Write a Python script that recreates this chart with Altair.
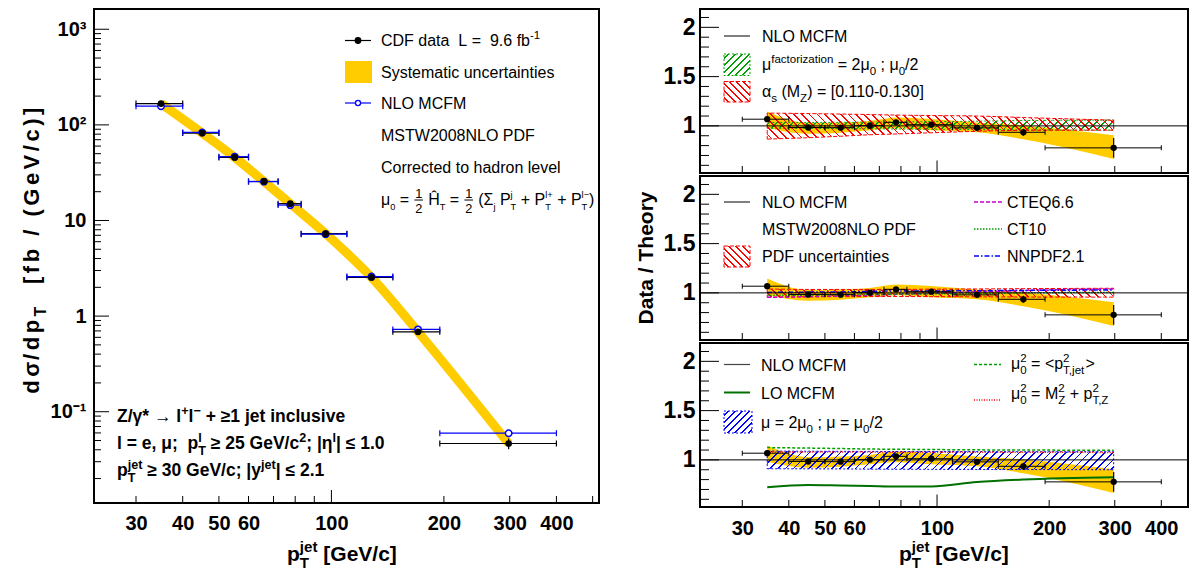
import math
import re
import altair as alt
import pandas as pd

# ---------------- values ----------------
bin_lo = [30, 40, 50, 60, 72, 83, 110, 146, 195]
bin_hi = [40, 50, 60, 72, 83, 110, 146, 195, 400]
pt_center = [35.0, 45.1, 55.1, 66.0, 77.6, 96.5, 128.0, 170.5, 298.0]
xsec = [167.0, 82.0, 45.7, 25.6, 15.0, 7.28, 2.54, 0.685, 0.0465]
xsec_err = [2.0, 1.0, 0.6, 0.4, 0.25, 0.14, 0.06, 0.025, 0.006]
nlo_mcfm = [157.0, 83.3, 46.5, 25.5, 14.5, 7.2, 2.59, 0.726, 0.0596]

ratio = [1.068, 0.984, 0.982, 1.002, 1.036, 1.012, 0.980, 0.935, 0.777]
ratio_err = [0.012, 0.012, 0.012, 0.014, 0.016, 0.016, 0.020, 0.035, 0.100]
sys_lo = [0.982, 0.920, 0.930, 0.955, 0.975, 0.955, 0.935, 0.865, 0.665]
sys_hi = [1.146, 1.029, 1.035, 1.050, 1.085, 1.070, 1.035, 1.005, 0.905]

muf_lo = [0.975, 0.974, 0.972, 0.970, 0.968, 0.966, 0.963, 0.960, 0.957]
muf_hi = [1.035, 1.035, 1.036, 1.038, 1.040, 1.043, 1.048, 1.054, 1.060]
alphas_lo = [0.866, 0.880, 0.895, 0.910, 0.918, 0.930, 0.945, 0.955, 0.957]
alphas_hi = [1.130, 1.125, 1.120, 1.115, 1.110, 1.105, 1.100, 1.085, 1.058]

pdf_lo = [0.955, 0.960, 0.962, 0.963, 0.963, 0.962, 0.960, 0.958, 0.957]
pdf_hi = [1.040, 1.035, 1.035, 1.035, 1.035, 1.038, 1.040, 1.043, 1.047]
cteq66 = [0.955, 0.962, 0.970, 0.978, 0.985, 0.995, 1.010, 1.025, 1.040]
ct10 = [0.975, 0.978, 0.982, 0.985, 0.988, 0.990, 0.995, 1.000, 1.005]
nnpdf21 = [1.005, 1.008, 1.010, 1.015, 1.020, 1.020, 1.022, 1.025, 1.030]

scale_lo = [0.910, 0.909, 0.908, 0.906, 0.905, 0.904, 0.903, 0.902, 0.900]
scale_hi = [1.090, 1.088, 1.087, 1.086, 1.085, 1.085, 1.084, 1.083, 1.083]
mu_ptjet = [1.125, 1.120, 1.115, 1.110, 1.108, 1.105, 1.102, 1.100, 1.098]
mu_mzpt = [1.080, 1.080, 1.079, 1.079, 1.078, 1.078, 1.077, 1.077, 1.076]
lo_mcfm = [0.722, 0.745, 0.740, 0.735, 0.730, 0.730, 0.775, 0.800, 0.823]

x_label_ticks = [30, 40, 50, 60, 100, 200, 300, 400]
x_major_ticks = [100]
x_minor_ticks = [30, 40, 50, 60, 70, 80, 90, 200, 300, 400, 500]
y_label_ticks_left = [0.1, 1, 10, 100, 1000]
y_label_ticks_right = [1, 1.5, 2]

# ---------------- geometry / style ----------------
FONT = "Liberation Sans"
YEL = "#FFCC00"
BLUE = "#0000FF"
RED = "#FF0000"
GREEN = "#00A000"
DGREEN = "#007000"
MAG = "#CC00CC"

LX0, LY0 = 93.0, 8.0
LW, LH = 505, 494
RX0 = 699.0
RY0 = [8.0, 175.0, 342.0]
RW, RH = 488, 164
HSPACE = RX0 - (LX0 + LW)
PADL = 11

XDOM_L = [23.16, 520.0]
YDOM_L = [0.0111, 1629.0]
XDOM_R = [23.1, 471.8]
YDOM_R = [0.522, 2.186]

# ---------------- text helpers ----------------
REG_SPEC = ("A667 B667 C722 D722 E667 F611 G778 H722 I278 J500 K667 L556 M833 N722 O778 P667 Q778 "
            "R722 S667 T611 U722 V667 W944 X667 Y667 Z611 a556 b556 c500 d556 e556 f278 g556 h556 "
            "i222 j222 k500 l222 m833 n556 o556 p556 q556 r333 s500 t278 u556 v500 w722 x500 y500 "
            "z500 0556 1556 2556 3556 4556 5556 6556 7556 8556 9556 (333 )333 [278 ]278 +584 -333 "
            "=584 <584 >584 /278 .278 ,278 ;278 :278 |260 *389 μ577 α578 γ500 η556 σ618 Σ618 "
            "→1000 ≥549 ≤549 −584 Ĥ722")
BOLD_SPEC = ("A722 B722 C722 D722 E667 F611 G778 H722 I278 J556 K722 L611 M833 N722 O778 P667 Q778 "
             "R722 S667 T611 U722 V667 W944 X667 Y667 Z611 a556 b611 c556 d611 e556 f333 g611 h611 "
             "i278 j278 k556 l278 m889 n611 o611 p611 q611 r389 s556 t333 u611 v556 w778 x556 y556 "
             "z500 0556 1556 2556 3556 4556 5556 6556 7556 8556 9556 (333 )333 [333 ]333 +584 -333 "
             "=584 <584 >584 /278 .278 ,278 ;333 :333 |280 *389 μ611 α611 γ556 η611 σ611 Σ611 "
             "→1000 ≥549 ≤549 −584 Ĥ722")


def parse_w(spec):
    d = {" ": 278}
    for tok in spec.split():
        d[tok[0]] = int(tok[1:])
    return d


REG = parse_w(REG_SPEC)
BLD = parse_w(BOLD_SPEC)


def tw(s, size, bold):
    tab = BLD if bold else REG
    return sum(tab.get(c, 556) for c in s) * size / 1000.0


def rich(items, x, y, size, bold=False, angle=0, small=0.72, track=0.0):
    pieces, bars = [], []

    def place(t, adv, perp, s):
        if angle == 0:
            px, py = x + adv, y + perp
        else:
            px, py = x + perp, y - adv
        pieces.append({"x": px, "y": py, "t": t, "s": s, "a": angle})

    def run(s, adv, perp, fs):
        p = 0.0
        if track > 0:
            for ch in s:
                if ch.strip():
                    place(ch, adv + p, perp, fs)
                p += tw(ch, fs, bold) + track
            return p
        for tok in re.split(r"( +)", s):
            if not tok:
                continue
            if tok.strip():
                place(tok, adv + p, perp, fs)
            p += tw(tok, fs, bold)
        return p

    pos = 0.0
    for it in items:
        if isinstance(it, str):
            pos += run(it, pos, 0.0, size)
            continue
        k = it[0]
        fs = size * small
        if k == "^":
            pos += run(it[1], pos, -0.42 * size, fs)
        elif k == "_":
            pos += run(it[1], pos, 0.32 * size, fs)
        elif k == "^_":
            w1 = run(it[1], pos, -0.42 * size, fs)
            w2 = run(it[2], pos, 0.32 * size, fs)
            pos += max(w1, w2)
        elif k == "frac":
            f2 = size * 0.8
            w = max(tw(it[1], f2, bold), tw(it[2], f2, bold))
            pad = 1.5
            run(it[1], pos + pad + (w - tw(it[1], f2, bold)) / 2, -0.42 * size, f2)
            run(it[2], pos + pad + (w - tw(it[2], f2, bold)) / 2, 0.52 * size, f2)
            bars.append((x + pos + pad * 0.5, x + pos + pad * 1.5 + w, y - 0.28 * size))
            pos += w + 2 * pad
    return pieces, bars, pos


def rel(pieces, ox, oy):
    return [dict(p, x=p["x"] - ox, y=p["y"] - oy) for p in pieces]


ONE = pd.DataFrame({"k": [0]})


def text_layer(pieces, bold):
    df = pd.DataFrame(pieces)
    return alt.Chart(df).mark_text(
        font=FONT, fontWeight="bold" if bold else "normal", align="left",
        baseline="alphabetic", color="black"
    ).encode(
        x=alt.X("x:Q", scale=None, axis=None),
        y=alt.Y("y:Q", scale=None, axis=None),
        text="t:N",
        size=alt.Size("s:Q", scale=None, legend=None),
        angle=alt.Angle("a:Q", scale=None, legend=None),
    )


def hrule(x1, x2, y, color, width=1.0, dash=None):
    kw = dict(color=color, strokeWidth=width, strokeCap="butt")
    if dash:
        kw["strokeDash"] = dash
    return alt.Chart(ONE).mark_rule(**kw).encode(x=alt.value(x1), x2=alt.value(x2), y=alt.value(y))


def box(x1, x2, y1, y2, fill, stroke=None, dash=None):
    kw = dict(fill=fill, strokeWidth=1)
    if stroke:
        kw["stroke"] = stroke
    if dash:
        kw["strokeDash"] = dash
    return alt.Chart(ONE).mark_rect(**kw).encode(
        x=alt.value(x1), x2=alt.value(x2), y=alt.value(y1), y2=alt.value(y2))


def dot(x, y, fill, stroke, size):
    return alt.Chart(ONE).mark_point(shape="circle", filled=True, fill=fill, stroke=stroke,
                                     strokeWidth=1.3, size=size, opacity=1).encode(
        x=alt.value(x), y=alt.value(y))


def hatch(color, W, H, back=False, period=5.5, lw=1.2):
    W = max(W, 1.0)
    H = max(H, 1.0)
    k = (W + H) / (W * W + H * H)
    if back:
        g = dict(x1=0, y1=1, x2=round(W * k, 5), y2=round(1 - H * k, 5))
    else:
        g = dict(x1=0, y1=0, x2=round(W * k, 5), y2=round(H * k, 5))
    dt = period * math.sqrt(2) / (W + H)
    dl = lw * math.sqrt(2) / (W + H)
    clear = "rgba(255,255,255,0)"
    stops = [{"offset": 0, "color": clear}]
    o = dt / 2
    while o + dl < 1:
        a, b = round(o, 5), round(o + dl, 5)
        stops += [{"offset": a, "color": clear}, {"offset": a, "color": color},
                  {"offset": b, "color": color}, {"offset": b, "color": clear}]
        o += dt
    stops.append({"offset": 1, "color": clear})
    d = {"gradient": "linear", "stops": stops}
    d.update(g)
    return d


def text_and_bars(specs, ox, oy):
    reg, bld, layers = [], [], []
    for pcs, bars, bold in specs:
        (bld if bold else reg).extend(rel(pcs, ox, oy))
        for (a, b, yy) in bars:
            layers.append(hrule(a - ox, b - ox, yy - oy, "black", 1.0))
    if reg:
        layers.append(text_layer(reg, False))
    if bld:
        layers.append(text_layer(bld, True))
    return layers


def T(items, x, y, size=16, bold=False, angle=0, small=0.72):
    p, b, _ = rich(items, x, y, size, bold, angle, small)
    return (p, b, bold)


def Tcentered_rot(items, x, yc, size, bold=True, track=0.0):
    _, _, w = rich(items, 0, 0, size, bold, track=track)
    p, b, _ = rich(items, x, yc + w / 2, size, bold, 270, track=track)
    return (p, b, bold)


# ---------------- axes ----------------
AX_COMMON = dict(ticks=False, tickSize=0, domain=False, grid=False, title=None,
                 labelFont=FONT, labelFontWeight="bold", labelColor="black",
                 labelOverlap=False, labelFlush=False)
AX_L = alt.Axis(values=x_label_ticks, format="d", labelFontSize=20, labelPadding=10, **AX_COMMON)
AY_L = alt.Axis(values=y_label_ticks_left, labelFontSize=20, labelPadding=8,
                labelExpr="datum.value > 999 ? '10³' : datum.value > 99 ? '10²' : datum.value > 9 ? '10' : datum.value > 0.9 ? '1' : '10⁻¹'",
                **AX_COMMON)
AX_R = alt.Axis(values=x_label_ticks, format="d", labelFontSize=20, labelPadding=11, **AX_COMMON)
AY_R = alt.Axis(values=y_label_ticks_right, format="~g", labelFontSize=23, labelPadding=5, **AX_COMMON)

# ---------------- left panel ----------------
dfL = pd.DataFrame({"pt": pt_center, "lo": bin_lo, "hi": bin_hi, "xs": xsec, "nlo": nlo_mcfm})
dfL["xs_dn"] = dfL["xs"] - pd.Series(xsec_err)
dfL["xs_up"] = dfL["xs"] + pd.Series(xsec_err)

xsL = alt.Scale(type="log", domain=XDOM_L, nice=False)
ysL = alt.Scale(type="log", domain=YDOM_L, nice=False)


def XL(f):
    return alt.X(f, type="quantitative", scale=xsL, axis=AX_L)


def YL(f):
    return alt.Y(f, type="quantitative", scale=ysL, axis=AY_L)


baseL = alt.Chart(dfL)
left_layers = [
    baseL.mark_line(color=YEL, strokeWidth=9, interpolate="monotone", strokeCap="butt").encode(
        x=XL("pt"), y=YL("xs")),
    baseL.mark_rule(color="black", strokeWidth=1.2).encode(x=XL("lo"), x2="hi", y=YL("xs")),
    baseL.mark_tick(orient="vertical", size=6, thickness=1.2, color="black", opacity=1).encode(x=XL("lo"), y=YL("xs")),
    baseL.mark_tick(orient="vertical", size=6, thickness=1.2, color="black", opacity=1).encode(x=XL("hi"), y=YL("xs")),
    baseL.mark_rule(color=BLUE, strokeWidth=1.2).encode(x=XL("lo"), x2="hi", y=YL("nlo")),
    baseL.mark_tick(orient="vertical", size=6, thickness=1.2, color=BLUE, opacity=1).encode(x=XL("lo"), y=YL("nlo")),
    baseL.mark_tick(orient="vertical", size=6, thickness=1.2, color=BLUE, opacity=1).encode(x=XL("hi"), y=YL("nlo")),
    baseL.mark_rule(color="black", strokeWidth=1.2).encode(x=XL("pt"), y=YL("xs_dn"), y2="xs_up"),
    baseL.mark_point(shape="circle", filled=True, fill="white", stroke=BLUE, strokeWidth=1.5,
                     size=42, opacity=1).encode(x=XL("pt"), y=YL("nlo")),
    baseL.mark_point(shape="circle", filled=True, color="black", size=45, opacity=1).encode(
        x=XL("pt"), y=YL("xs")),
]

# inward ticks, left
left_layers.append(alt.Chart(pd.DataFrame({"v": x_major_ticks})).mark_rule(color="black", strokeWidth=1).encode(
    x=XL("v"), y=alt.value(LH), y2=alt.value(LH - 13)))
left_layers.append(alt.Chart(pd.DataFrame({"v": x_minor_ticks})).mark_rule(color="black", strokeWidth=1).encode(
    x=XL("v"), y=alt.value(LH), y2=alt.value(LH - 7)))
y_major_L = [v for v in [0.1, 1, 10, 100, 1000] if YDOM_L[0] < v < YDOM_L[1]]
y_minor_L = [m * 10.0 ** e for e in range(-2, 4) for m in range(2, 10)
             if YDOM_L[0] < m * 10.0 ** e < YDOM_L[1]]
left_layers.append(alt.Chart(pd.DataFrame({"v": y_major_L})).mark_rule(color="black", strokeWidth=1).encode(
    y=YL("v"), x=alt.value(0), x2=alt.value(15)))
left_layers.append(alt.Chart(pd.DataFrame({"v": y_minor_L})).mark_rule(color="black", strokeWidth=1).encode(
    y=YL("v"), x=alt.value(0), x2=alt.value(7)))

# legend symbols (left)
ox, oy = LX0, LY0
left_layers += [
    hrule(344 - ox, 370 - ox, 39.5 - oy, "black", 1.2),
    dot(357 - ox, 39.5 - oy, "black", "black", 30),
    box(344 - ox, 371 - ox, 60 - oy, 82 - oy, YEL),
    hrule(344 - ox, 370 - ox, 102 - oy, BLUE, 1.2),
    dot(357 - ox, 102 - oy, "white", BLUE, 26),
]

left_text = [
    T(["CDF data  L =  9.6 fb", ("^", "-1")], 380, 45, 16),
    T(["Systematic uncertainties"], 380, 77, 16),
    T(["NLO MCFM"], 380, 108, 16),
    T(["MSTW2008NLO PDF"], 380, 140, 16),
    T(["Corrected to hadron level"], 380, 172, 16),
    T(["μ", ("_", "0"), " = ", ("frac", "1", "2"), " Ĥ", ("_", "T"), " = ", ("frac", "1", "2"),
       " (Σ", ("_", "j"), " P", ("^_", "j", "T"), " + P", ("^_", "l+", "T"), " + P",
       ("^_", "l−", "T"), ")"], 380, 203.5, 16, small=0.58),
    T(["Z/γ* → l", ("^", "+"), "l", ("^", "−"), " + ≥1 jet inclusive"], 116, 421, 17.5, True),
    T(["l = e, μ;  p", ("^_", "l", "T"), " ≥ 25 GeV/c", ("^", "2"), "; |η", ("^", "l"), "| ≤ 1.0"],
      116, 448, 17.5, True),
    T(["p", ("^_", "jet", "T"), " ≥ 30 GeV/c; |y", ("^", "jet"), "| ≤ 2.1"], 116, 475, 17.5, True),
    T(["p", ("^_", "jet", "T"), " [GeV/c]"], 286, 560, 21, True),
    Tcentered_rot(["dσ/dp", ("_", "T"), "  [fb / (GeV/c)]"], 38, 248, 22, track=3.5),
]
left_layers += text_and_bars(left_text, ox, oy)

left = alt.layer(*left_layers).properties(width=LW, height=LH)

# ---------------- ratio panels ----------------
dfR = pd.DataFrame({
    "pt": pt_center, "lo": bin_lo, "hi": bin_hi, "r": ratio,
    "slo": sys_lo, "shi": sys_hi,
    "muf_lo": muf_lo, "muf_hi": muf_hi, "as_lo": alphas_lo, "as_hi": alphas_hi,
    "pdf_lo": pdf_lo, "pdf_hi": pdf_hi, "cteq": cteq66, "ct10": ct10, "nnpdf": nnpdf21,
    "sc_lo": scale_lo, "sc_hi": scale_hi, "mu1": mu_ptjet, "mu2": mu_mzpt, "lo_mcfm": lo_mcfm,
})
dfR["r_dn"] = dfR["r"] - pd.Series(ratio_err)
dfR["r_up"] = dfR["r"] + pd.Series(ratio_err)

xsR = alt.Scale(type="log", domain=XDOM_R, nice=False)
ysR = alt.Scale(domain=YDOM_R, nice=False, zero=False)

CUR = {"xaxis": None}


def XR(f):
    return alt.X(f, type="quantitative", scale=xsR, axis=CUR["xaxis"])


def YR(f):
    return alt.Y(f, type="quantitative", scale=ysR, axis=AY_R)


def rx(v):
    return (math.log10(v) - math.log10(XDOM_R[0])) / (math.log10(XDOM_R[1]) - math.log10(XDOM_R[0])) * RW


PXU = RH / (YDOM_R[1] - YDOM_R[0])
BW = rx(pt_center[-1]) - rx(pt_center[0])


def band(lo, hi, color, back, dash):
    H = (max(dfR[hi]) - min(dfR[lo])) * PXU
    return alt.Chart(dfR).mark_area(
        fill=hatch(color, BW, H, back), stroke=color, strokeWidth=1, strokeDash=dash,
        interpolate="monotone", opacity=1
    ).encode(x=XR("pt"), y=YR(lo), y2=hi)


def tline(col, color, dash, width=1.5):
    kw = dict(color=color, strokeWidth=width, interpolate="monotone")
    if dash:
        kw["strokeDash"] = dash
    return alt.Chart(dfR).mark_line(**kw).encode(x=XR("pt"), y=YR(col))


def ratio_panel(idx, theory_layers, legend_layers, text_specs):
    baseR = alt.Chart(dfR)
    layers = [baseR.mark_area(color=YEL, interpolate="monotone", opacity=1).encode(
        x=XR("pt"), y=YR("slo"), y2="shi")]
    layers += theory_layers
    layers += [
        alt.Chart(pd.DataFrame({"v": [1.0]})).mark_rule(color="black", strokeWidth=1).encode(y=YR("v")),
        baseR.mark_rule(color="black", strokeWidth=1).encode(x=XR("lo"), x2="hi", y=YR("r")),
        baseR.mark_tick(orient="vertical", size=5, thickness=1, color="black", opacity=1).encode(x=XR("lo"), y=YR("r")),
        baseR.mark_tick(orient="vertical", size=5, thickness=1, color="black", opacity=1).encode(x=XR("hi"), y=YR("r")),
        baseR.mark_rule(color="black", strokeWidth=1.2).encode(x=XR("pt"), y=YR("r_dn"), y2="r_up"),
        baseR.mark_point(shape="circle", filled=True, color="black", size=40, opacity=1).encode(
            x=XR("pt"), y=YR("r")),
    ]
    xr_minor = [v for v in x_minor_ticks if XDOM_R[0] < v < XDOM_R[1]]
    layers.append(alt.Chart(pd.DataFrame({"v": x_major_ticks})).mark_rule(color="black", strokeWidth=1).encode(
        x=XR("v"), y=alt.value(RH), y2=alt.value(RH - 12.5)))
    layers.append(alt.Chart(pd.DataFrame({"v": xr_minor})).mark_rule(color="black", strokeWidth=1).encode(
        x=XR("v"), y=alt.value(RH), y2=alt.value(RH - 7)))
    y_minor = [round(0.6 + 0.1 * i, 2) for i in range(16)]
    y_minor = [v for v in y_minor if v not in (1.0, 1.5, 2.0)]
    layers.append(alt.Chart(pd.DataFrame({"v": y_label_ticks_right})).mark_rule(color="black", strokeWidth=1).encode(
        y=YR("v"), x=alt.value(0), x2=alt.value(19)))
    layers.append(alt.Chart(pd.DataFrame({"v": y_minor})).mark_rule(color="black", strokeWidth=1).encode(
        y=YR("v"), x=alt.value(0), x2=alt.value(9)))
    layers += legend_layers
    layers += text_and_bars(text_specs, RX0, RY0[idx])
    return alt.layer(*layers).properties(width=RW, height=RH)


# top panel
CUR["xaxis"] = None
ox, oy = RX0, RY0[0]
top = ratio_panel(
    0,
    [band("muf_lo", "muf_hi", GREEN, False, [2, 2]),
     band("as_lo", "as_hi", RED, True, [4, 2])],
    [hrule(723 - ox, 749 - ox, 35 - oy, "black", 1),
     box(723 - ox, 749 - ox, 53 - oy, 74.5 - oy, hatch(GREEN, 26, 21.5, False, 5), GREEN, [2, 2]),
     box(723 - ox, 749 - ox, 80.5 - oy, 101 - oy, hatch(RED, 26, 20.5, True, 5), RED, [4, 2])],
    [T(["NLO MCFM"], 761, 40.5),
     T(["μ", ("^", "factorization"), " = 2μ", ("_", "0"), " ; μ", ("_", "0"), "/2"], 761, 68.5),
     T(["α", ("_", "s"), " (M", ("_", "Z"), ") = [0.110-0.130]"], 761, 96)],
)

# middle panel
CUR["xaxis"] = None
ox, oy = RX0, RY0[1]
mid = ratio_panel(
    1,
    [band("pdf_lo", "pdf_hi", RED, True, [4, 2]),
     tline("cteq", MAG, [4, 2]),
     tline("ct10", GREEN, [1.5, 1.5]),
     tline("nnpdf", BLUE, [5, 2, 1.5, 2])],
    [hrule(723 - ox, 749 - ox, 201 - oy, "black", 1),
     box(723 - ox, 749 - ox, 245 - oy, 266 - oy, hatch(RED, 26, 21, True, 5), RED, [4, 2]),
     hrule(973 - ox, 1001 - ox, 201 - oy, MAG, 1.5, [4, 2]),
     hrule(973 - ox, 1001 - ox, 228 - oy, GREEN, 1.5, [1.5, 1.5]),
     hrule(973 - ox, 1001 - ox, 255 - oy, BLUE, 1.5, [5, 2, 1.5, 2])],
    [T(["NLO MCFM"], 761, 206.5),
     T(["MSTW2008NLO PDF"], 761, 233.5),
     T(["PDF uncertainties"], 761, 260.5),
     T(["CTEQ6.6"], 1006, 206.5),
     T(["CT10"], 1006, 233.5),
     T(["NNPDF2.1"], 1006, 260.5),
     Tcentered_rot(["Data / Theory"], 652, 257, 21)],
)

# bottom panel
CUR["xaxis"] = AX_R
ox, oy = RX0, RY0[2]
bot = ratio_panel(
    2,
    [band("sc_lo", "sc_hi", BLUE, False, [2, 2]),
     tline("mu1", GREEN, [3, 2]),
     tline("mu2", RED, [1, 1.5]),
     tline("lo_mcfm", DGREEN, None, 2)],
    [hrule(723 - ox, 749 - ox, 363.5 - oy, "#444444", 1.2),
     hrule(723 - ox, 749 - ox, 391.5 - oy, DGREEN, 2),
     box(723 - ox, 751 - ox, 410 - oy, 432 - oy, hatch(BLUE, 28, 22, False, 5), BLUE, [2, 2]),
     hrule(973 - ox, 1000 - ox, 363.5 - oy, GREEN, 1.5, [3, 2]),
     hrule(973 - ox, 1000 - ox, 399 - oy, RED, 1.5, [1, 1.5])],
    [T(["NLO MCFM"], 760, 370),
     T(["LO MCFM"], 760, 398),
     T(["μ = 2μ", ("_", "0"), " ; μ = μ", ("_", "0"), "/2"], 760, 426.5),
     T(["μ", ("^_", "2", "0"), " = <p", ("^_", "2", "T,jet"), ">"], 1010, 368),
     T(["μ", ("^_", "2", "0"), " = M", ("^_", "2", "Z"), " + p", ("^_", "2", "T,Z")], 1010, 398),
     T(["p", ("^_", "jet", "T"), " [GeV/c]"], 898, 560, 21, True)],
)

right = alt.vconcat(top, mid, bot, spacing=3, bounds="flush")

chart = alt.hconcat(left, right, spacing=HSPACE, bounds="flush").properties(
    padding={"left": PADL, "top": 0, "right": 0, "bottom": 0}
).configure(font=FONT).configure_view(stroke="black", strokeWidth=2)

chart.save("out.html", embed_options={"renderer": "svg", "actions": False})
